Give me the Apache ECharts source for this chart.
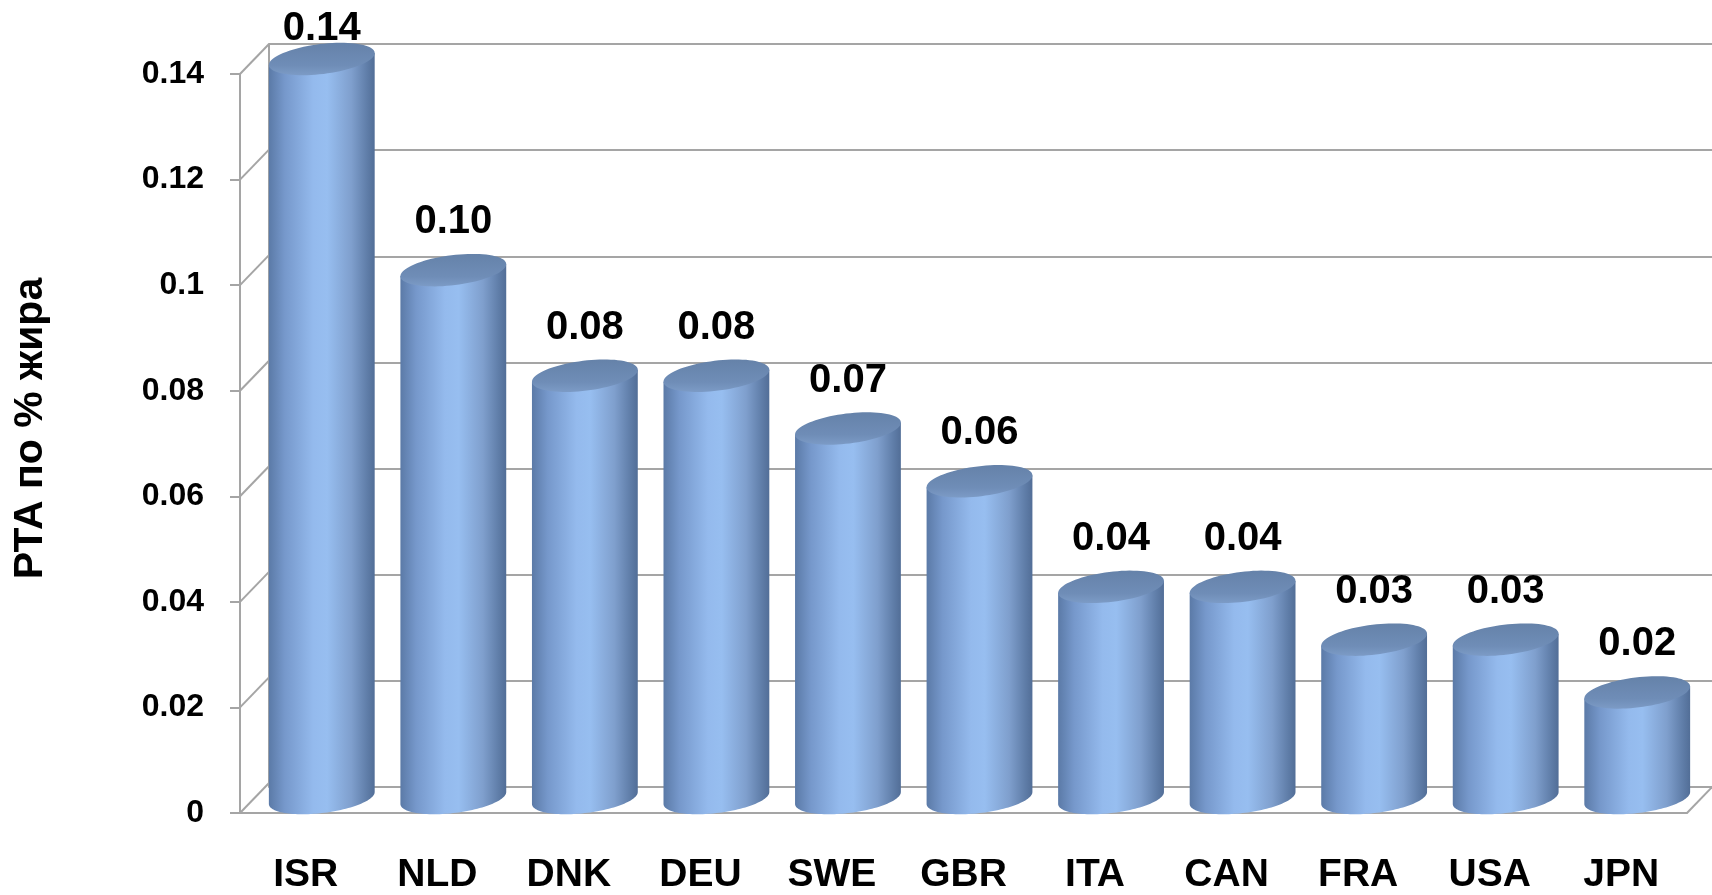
<!DOCTYPE html>
<html><head><meta charset="utf-8">
<script src="https://cdn.jsdelivr.net/npm/echarts@6/dist/echarts.min.js"></script>
<style>html,body{margin:0;padding:0;background:#fff}#c{width:1712px;height:895px}</style>
</head><body><div id="c"></div>
<script>
const categories = ['ISR','NLD','DNK','DEU','SWE','GBR','ITA','CAN','FRA','USA','JPN'];
const values = [0.14, 0.10, 0.08, 0.08, 0.07, 0.06, 0.04, 0.04, 0.03, 0.03, 0.02];
const yTicks = [0, 0.02, 0.04, 0.06, 0.08, 0.1, 0.12, 0.14];
const yTitle = 'РТА по % жира';

const FONT = "'Liberation Sans', Arial, sans-serif";
const GRID = { left: 240, right: 25, top: 74, bottom: 78 };
const DX = 29, DY = 30;           // 3D depth offset
const LINE = '#a5a5a5';
const PHI = -7 * Math.PI / 180;   // ellipse tilt

function ellPt(cx, cy, rx, ry, t) {
  return [
    cx + rx * Math.cos(t) * Math.cos(PHI) - ry * Math.sin(t) * Math.sin(PHI),
    cy + rx * Math.cos(t) * Math.sin(PHI) + ry * Math.sin(t) * Math.cos(PHI)
  ];
}
function ellPts(cx, cy, rx, ry, t0, t1, n) {
  const pts = [];
  for (let k = 0; k <= n; k++) pts.push(ellPt(cx, cy, rx, ry, t0 + (t1 - t0) * k / n));
  return pts;
}

function renderItem(params, api) {
  const idx = api.value(0), v = api.value(1);
  const base = api.coord([idx, 0]);
  const top = api.coord([idx, v]);
  const band = api.size([1, 0])[0];
  const rx = band * 0.405, ry = 15;
  const cx = base[0] + 16;
  const cyT = top[1] - DY / 2, cyB = base[1] - DY / 2;
  const t0 = Math.atan2(-ry * Math.sin(PHI), rx * Math.cos(PHI));
  const topR = ellPt(cx, cyT, rx, ry, t0);
  const topL = ellPt(cx, cyT, rx, ry, t0 + Math.PI);
  const botArc = ellPts(cx, cyB, rx, ry, t0, t0 + Math.PI, 60);
  const body = [topR].concat(botArc).concat([topL]);
  const cap = ellPts(cx, cyT, rx, ry, 0, 2 * Math.PI, 80);
  let labelY = top[1] - 63;
  if (labelY < 29) labelY = 29;
  return {
    type: 'group',
    children: [
      { type: 'polygon', shape: { points: body }, style: {
          fill: new echarts.graphic.LinearGradient(0, 0, 1, 0, [
            { offset: 0, color: '#5b7aa7' },
            { offset: 0.15, color: '#7698cb' },
            { offset: 0.42, color: '#94baed' },
            { offset: 0.55, color: '#97bef0' },
            { offset: 0.78, color: '#7f9fcd' },
            { offset: 0.93, color: '#5f7da8' },
            { offset: 1, color: '#526e97' }
          ]) } },
      { type: 'polygon', shape: { points: cap }, style: {
          fill: new echarts.graphic.LinearGradient(0, 0, 0, 1, [
            { offset: 0, color: '#6582a9' },
            { offset: 0.7, color: '#6f8db7' },
            { offset: 1, color: '#7c9bc6' }
          ]) } },
      { type: 'text', z2: 10, style: {
          text: v.toFixed(2), x: cx, y: labelY, align: 'center', verticalAlign: 'middle',
          font: 'bold 40px ' + FONT, fill: '#000' } }
    ]
  };
}

const chart = echarts.init(document.getElementById('c'), null, { renderer: 'canvas' });
chart.setOption({
  animation: false,
  backgroundColor: '#fff',
  grid: [
    { left: GRID.left, right: GRID.right, top: GRID.top, bottom: GRID.bottom },
    { left: GRID.left + DX, right: 0, top: GRID.top - DY, bottom: GRID.bottom + DY }
  ],
  xAxis: [
    { type: 'category', gridIndex: 0, data: categories,
      axisLine: { lineStyle: { color: LINE, width: 2 } },
      axisTick: { length: 14, lineStyle: { color: LINE, width: 2 } },
      axisLabel: { margin: 43, fontSize: 39, fontWeight: 'bold', fontFamily: FONT, color: '#000' } },
    { type: 'category', gridIndex: 1, data: categories, show: false }
  ],
  yAxis: [
    { type: 'value', gridIndex: 0, min: 0, max: 0.14, interval: 0.02,
      axisLine: { show: true, lineStyle: { color: LINE, width: 2 } },
      axisTick: { show: true, length: 10, lineStyle: { color: LINE, width: 2 } },
      splitLine: { show: false },
      axisLabel: { margin: 36, fontSize: 32, fontWeight: 'bold', fontFamily: FONT, color: '#000' } },
    { type: 'value', gridIndex: 1, min: 0, max: 0.14, interval: 0.02,
      axisLine: { show: true, lineStyle: { color: LINE, width: 2 } },
      axisTick: { show: false }, axisLabel: { show: false },
      splitLine: { show: true, lineStyle: { color: LINE, width: 2 } } }
  ],
  series: [{
    type: 'custom', xAxisIndex: 0, yAxisIndex: 0, clip: false, z: 5,
    renderItem: renderItem,
    encode: { x: 0, y: 1 },
    data: categories.map((c, i) => [i, values[i]])
  }]
});

// 3D wall connectors (diagonals) computed from axis scale, and the axis title
const graphics = [];
const xRight = 1712 - GRID.right;
yTicks.forEach(v => {
  const y = chart.convertToPixel({ yAxisIndex: 0 }, v);
  graphics.push({ type: 'line', z: 1, shape: { x1: GRID.left, y1: y, x2: GRID.left + DX, y2: y - DY },
    style: { stroke: LINE, lineWidth: 2 } });
});
const y0 = chart.convertToPixel({ yAxisIndex: 0 }, 0);
const yTop = chart.convertToPixel({ yAxisIndex: 0 }, 0.14);
graphics.push({ type: 'line', z: 1, shape: { x1: xRight, y1: y0, x2: xRight + DX, y2: y0 - DY },
  style: { stroke: LINE, lineWidth: 2 } });
graphics.push({ type: 'text', z: 10, x: 31, y: (y0 + yTop) / 2 - DY / 2, rotation: Math.PI / 2,
  style: { text: yTitle, align: 'center', verticalAlign: 'middle',
    font: 'bold 41px ' + FONT, fill: '#000' } });
chart.setOption({ graphic: graphics });
</script></body></html>
